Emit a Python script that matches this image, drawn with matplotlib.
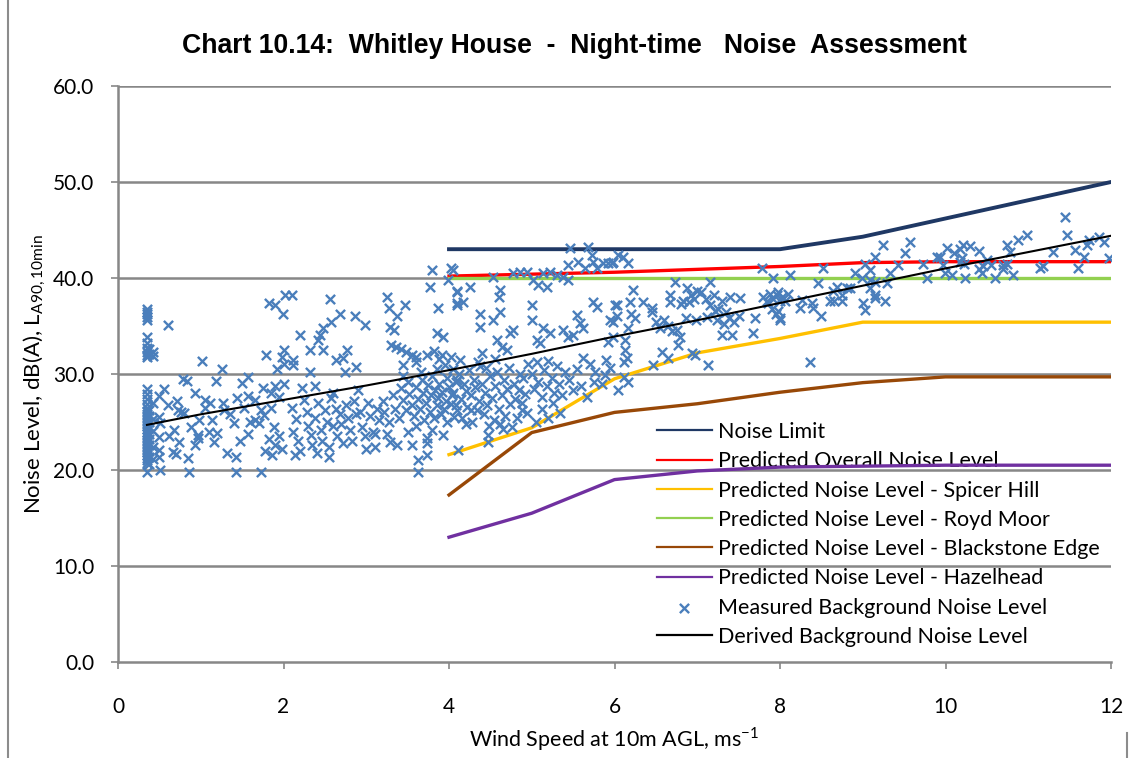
import matplotlib
matplotlib.use("Agg")
import matplotlib.pyplot as plt
from matplotlib.lines import Line2D
import numpy as np

# ---------------- data ----------------
wind_speeds = [4, 5, 6, 7, 8, 9, 10, 11, 12]
noise_limit = [43.0, 43.0, 43.0, 43.0, 43.0, 44.3, 46.2, 48.1, 50.0]
overall = [40.2, 40.4, 40.6, 40.9, 41.2, 41.6, 41.7, 41.7, 41.7]
spicer_hill = [21.6, 24.4, 29.5, 32.2, 33.7, 35.4, 35.4, 35.4, 35.4]
royd_moor = [40.0, 40.0, 40.0, 40.0, 40.0, 40.0, 40.0, 40.0, 40.0]
blackstone_edge = [17.4, 23.9, 26.0, 26.9, 28.1, 29.1, 29.7, 29.7, 29.7]
hazelhead = [13.0, 15.5, 19.0, 19.9, 20.3, 20.4, 20.5, 20.5, 20.5]

derived_x = [0.35, 1, 2, 3, 4, 5, 6, 7, 8, 9, 10, 11, 12]
derived_y = [24.7, 25.8, 27.3, 28.8, 30.4, 32.1, 33.9, 35.6, 37.4, 39.2, 41.0, 42.7, 44.4]

col_035 = [36.8, 36.5, 36.2, 35.9, 35.6, 33.9, 33.2, 32.7, 32.3, 32.0, 31.8, 28.4, 27.9, 27.4,
           26.9, 26.5, 26.1, 25.8, 25.5, 25.2, 24.9, 24.6, 24.3, 24.0, 23.7, 23.4, 23.1, 22.8,
           22.5, 22.2, 21.9, 21.6, 21.3, 21.0, 20.7, 19.8]
col_038 = [32.6, 32.1, 26.2, 25.6, 25.0, 24.4, 23.8, 23.2, 22.6, 22.0, 21.4, 20.6]
col_042 = [32.3, 31.9, 27.0, 25.3, 24.1, 22.4, 21.1]

measured_pts = [
    # 0.5 - 2.0
    (0.61, 35.1), (1.02, 31.4), (1.26, 30.5), (0.78, 29.5), (0.83, 29.3), (1.19, 29.3), (0.56, 28.4),
    (0.49, 27.7), (0.71, 27.2), (0.93, 28.0), (1.05, 27.3), (1.11, 27.0), (1.27, 27.0), (1.44, 27.5),
    (1.50, 29.1), (1.57, 29.7), (1.57, 27.7), (1.66, 27.3), (0.73, 26.2), (0.80, 25.9), (0.76, 26.0),
    (0.49, 25.5), (0.51, 24.9), (0.68, 24.2), (0.49, 23.4), (0.49, 22.1), (0.74, 22.9), (0.66, 21.9),
    (0.70, 21.7), (0.50, 21.4), (0.97, 23.6), (0.97, 23.3), (0.93, 22.6), (0.98, 25.2), (1.14, 25.2),
    (1.16, 22.9), (1.40, 24.9), (1.32, 21.8), (1.42, 21.4), (0.51, 20.0), (0.86, 19.8), (1.43, 19.8),
    (1.73, 19.8), (1.57, 23.8), (1.60, 25.0), (1.65, 25.2), (1.70, 24.9), (1.73, 26.2), (1.77, 25.7),
    (1.79, 32.0), (1.82, 37.4), (1.90, 37.2), (1.99, 36.3), (2.02, 38.2), (1.85, 28.0), (1.90, 28.8),
    (1.95, 27.6), (2.00, 29.0), (1.78, 22.0), (1.82, 23.2), (1.86, 21.6), (1.90, 22.6), (1.95, 23.5),
    (1.98, 22.2), (1.88, 24.5), (1.92, 30.5), (2.00, 31.0), (2.00, 32.5), (1.98, 31.8), (1.20, 23.9),
    (1.28, 26.2), (1.35, 25.8), (1.05, 26.5), (0.88, 24.5), (0.60, 26.8), (0.62, 23.5), (0.85, 21.2),
    (1.10, 24.0), (1.48, 23.0), (1.52, 26.5), (1.85, 26.5), (1.75, 28.5),
    # 2.0 - 4.1 upper
    (2.10, 38.2), (2.56, 37.8), (2.68, 36.3), (2.86, 36.0), (2.98, 35.1), (2.57, 35.4), (2.48, 34.8),
    (2.44, 34.1), (2.42, 33.5), (2.20, 34.1), (2.32, 32.5), (2.48, 32.5), (2.77, 32.5), (2.64, 31.5),
    (2.72, 31.7), (2.74, 30.2), (2.88, 30.7), (2.32, 30.2), (2.12, 31.5), (2.12, 30.9), (3.25, 38.0),
    (3.27, 36.9), (3.37, 36.0), (3.47, 37.2), (3.29, 34.9), (3.33, 34.6), (3.30, 33.0), (3.36, 32.8),
    (3.42, 32.6), (3.48, 32.3), (3.55, 32.0), (3.60, 31.8), (3.45, 30.9), (3.60, 31.3), (3.73, 32.0),
    (3.80, 40.8), (3.77, 39.1), (3.87, 36.9), (4.03, 41.0), (3.99, 39.8), (4.10, 38.5), (4.10, 37.4),
    (3.85, 34.3), (3.93, 33.9), (3.82, 32.4), (3.88, 31.6), (3.95, 30.9), (4.02, 31.8), (4.05, 30.5),
    (3.92, 32.0),
    # 2.1 - 2.9 lower
    (2.10, 26.5), (2.15, 25.3), (2.12, 24.0), (2.18, 23.0), (2.20, 22.0), (2.14, 21.6), (2.25, 27.3),
    (2.28, 26.0), (2.30, 24.6), (2.33, 23.6), (2.35, 22.6), (2.38, 25.4), (2.42, 27.0), (2.45, 24.2),
    (2.47, 23.0), (2.50, 26.2), (2.52, 25.0), (2.55, 22.4), (2.58, 27.5), (2.60, 24.6), (2.63, 26.4),
    (2.65, 23.5), (2.68, 25.8), (2.70, 24.8), (2.72, 22.8), (2.75, 26.8), (2.78, 25.4), (2.80, 24.2),
    (2.83, 23.0), (2.85, 27.2), (2.88, 25.8), (2.40, 21.8), (2.55, 21.4), (2.22, 28.5), (2.60, 28.0),
    (2.38, 28.8), (2.90, 28.3),
    # 2.9 - 3.4
    (2.92, 26.0), (2.95, 24.5), (2.98, 23.5), (3.02, 27.0), (3.05, 25.6), (3.08, 24.0), (3.10, 23.8),
    (3.10, 22.4), (3.13, 26.4), (3.16, 25.2), (3.20, 27.2), (3.22, 26.0), (3.25, 23.8), (3.28, 25.0),
    (3.29, 22.9), (3.32, 27.8), (3.35, 26.4), (3.37, 22.6), (3.40, 25.4), (3.00, 22.2),
    # 3.4 - 4.1 dense
    (3.42, 28.5), (3.45, 27.3), (3.48, 26.2), (3.50, 29.2), (3.52, 27.9), (3.55, 26.8), (3.55, 22.6),
    (3.58, 25.6), (3.60, 28.6), (3.62, 27.4), (3.63, 21.0), (3.63, 19.8), (3.65, 26.4), (3.67, 29.4),
    (3.68, 28.0), (3.70, 25.2), (3.72, 27.0), (3.73, 23.3), (3.73, 22.8), (3.73, 21.6), (3.75, 28.9),
    (3.77, 26.0), (3.78, 27.8), (3.80, 29.8), (3.82, 25.4), (3.83, 28.3), (3.85, 26.8), (3.87, 27.5),
    (3.88, 29.0), (3.90, 25.8), (3.92, 28.1), (3.93, 23.6), (3.94, 26.4), (3.96, 27.2), (3.97, 29.6),
    (3.98, 25.0), (4.00, 28.6), (4.02, 26.9), (4.04, 27.8), (4.06, 25.5), (4.08, 29.2), (4.10, 26.2),
    (3.60, 24.6), (3.80, 24.2), (3.50, 24.0), (3.66, 30.2), (3.85, 30.5), (3.45, 29.8),
    # 4 - 6
    (4.05, 40.8), (4.10, 38.6), (4.17, 37.5), (4.25, 39.1), (4.10, 37.2), (4.53, 40.1), (4.62, 38.7),
    (4.60, 38.0), (4.37, 36.3), (4.37, 34.9), (4.53, 35.6), (4.62, 36.5), (4.77, 40.5), (4.86, 40.6),
    (4.94, 40.6), (5.02, 39.8), (5.08, 39.3), (5.18, 39.1), (5.14, 40.5), (5.22, 40.6), (5.30, 40.3),
    (5.38, 40.1), (5.44, 39.8), (5.46, 43.1), (5.44, 41.4), (5.56, 41.7), (5.68, 43.2), (5.73, 42.4),
    (5.74, 41.7), (5.64, 41.0), (5.79, 41.0), (5.86, 41.6), (5.92, 41.6), (5.98, 41.7), (6.04, 42.4),
    (5.00, 37.2), (5.00, 35.6), (5.14, 34.8), (5.22, 34.3), (5.06, 33.5), (5.10, 33.2), (4.77, 34.6),
    (4.74, 34.3), (4.58, 33.5), (4.64, 32.8), (4.70, 32.5), (4.40, 32.2), (4.13, 31.5), (5.38, 34.6),
    (5.44, 33.9), (5.50, 34.1), (5.55, 36.1), (5.58, 35.3), (5.62, 34.8), (5.74, 37.5), (5.79, 37.0),
    (5.95, 35.6), (6.00, 37.2), (5.92, 33.3), (5.62, 31.7), (5.26, 27.0), (5.34, 25.9), (5.50, 28.3),
    (5.67, 27.6), (5.77, 30.2), (5.88, 29.9), (5.85, 29.0), (4.47, 23.6), (4.47, 22.9), (4.11, 22.1),
    (4.27, 26.3), (4.88, 27.0), (4.94, 25.9),
    # 4.0 - 4.95 dense
    (4.05, 28.0), (4.08, 26.8), (4.12, 30.0), (4.14, 27.4), (4.16, 25.4), (4.18, 29.0), (4.20, 28.2),
    (4.22, 26.6), (4.24, 30.4), (4.26, 27.8), (4.28, 25.0), (4.30, 29.4), (4.32, 28.6), (4.34, 26.2),
    (4.36, 27.2), (4.38, 30.8), (4.40, 29.0), (4.42, 25.8), (4.44, 28.0), (4.46, 26.8), (4.48, 24.6),
    (4.50, 29.8), (4.52, 27.5), (4.54, 25.2), (4.56, 28.8), (4.58, 30.2), (4.60, 26.4), (4.62, 24.8),
    (4.64, 27.8), (4.66, 29.4), (4.68, 25.6), (4.70, 28.4), (4.72, 30.6), (4.74, 26.9), (4.76, 24.5),
    (4.78, 29.0), (4.80, 27.4), (4.82, 25.4), (4.84, 28.3), (4.86, 30.0), (4.88, 26.2), (4.90, 29.6),
    (4.92, 27.9), (4.95, 31.0), (4.35, 31.2), (4.55, 31.6), (4.20, 24.8), (4.65, 24.3), (4.45, 30.6),
    (4.10, 29.4),
    # 5.0 - 6.0
    (5.00, 30.0), (5.03, 28.4), (5.06, 31.2), (5.08, 29.2), (5.12, 27.6), (5.15, 30.4), (5.18, 28.8),
    (5.20, 31.4), (5.24, 29.6), (5.27, 28.0), (5.30, 30.8), (5.33, 29.0), (5.36, 27.8), (5.40, 30.2),
    (5.12, 26.4), (5.20, 25.4), (5.05, 25.0), (5.45, 29.4), (5.55, 30.5), (5.60, 28.8), (5.70, 31.0),
    (5.75, 29.2), (5.90, 31.5), (5.95, 30.6),
    # 6 - 8
    (5.97, 41.6), (6.10, 42.2), (6.16, 41.6), (7.78, 41.0), (7.92, 40.0), (6.73, 39.6), (7.15, 39.6),
    (6.22, 38.7), (6.88, 39.0), (6.92, 38.2), (6.96, 37.8), (7.00, 38.6), (6.90, 37.5), (6.67, 38.2),
    (6.67, 37.5), (7.05, 38.5), (7.10, 37.8), (7.15, 37.2), (7.20, 38.2), (7.25, 36.8), (7.30, 37.6),
    (7.35, 36.5), (7.22, 36.6), (7.40, 38.0), (7.52, 37.9), (6.35, 37.5), (6.19, 37.5), (6.03, 37.2),
    (6.03, 36.0), (6.20, 36.3), (6.25, 35.8), (6.45, 36.9), (6.45, 36.5), (6.50, 35.4), (6.55, 34.8),
    (6.60, 35.6), (6.65, 35.0), (6.70, 34.5), (6.80, 37.3), (6.83, 37.6), (6.75, 34.6), (6.79, 33.9),
    (6.77, 33.0), (6.86, 35.8), (6.98, 35.6), (7.12, 35.9), (7.24, 35.6), (7.30, 34.1), (7.42, 34.1),
    (7.32, 35.2), (7.38, 35.8), (7.45, 35.4), (7.50, 36.0), (7.67, 34.3), (7.70, 35.8), (7.80, 38.0),
    (7.84, 37.6), (7.88, 38.3), (7.92, 37.8), (7.96, 38.2), (8.00, 37.6), (7.86, 37.4), (7.90, 36.8),
    (7.95, 36.2), (8.00, 35.6), (6.16, 34.8), (5.98, 35.4), (5.98, 33.9), (6.13, 33.5), (6.15, 31.7),
    (6.13, 32.5), (6.12, 31.2), (6.57, 32.3), (6.65, 31.7), (6.47, 30.9), (6.94, 32.2), (6.97, 32.0),
    (7.13, 30.9), (6.11, 29.7), (6.16, 29.2), (6.04, 28.3),
    # 8 - 10
    (9.25, 43.4), (9.57, 43.8), (9.51, 42.6), (9.15, 42.2), (9.03, 41.5), (9.09, 40.8), (9.43, 41.4),
    (9.73, 41.5), (9.90, 42.2), (8.52, 41.0), (8.12, 40.3), (8.91, 40.5), (9.33, 40.5), (8.46, 39.5),
    (8.99, 40.0), (9.09, 39.8), (9.15, 39.6), (9.78, 40.0), (9.29, 39.5), (8.69, 39.1), (8.81, 39.0),
    (8.85, 39.0), (9.09, 39.0), (8.64, 38.6), (8.75, 38.2), (9.15, 38.2), (9.15, 37.9), (7.97, 38.5),
    (8.02, 38.0), (8.06, 37.6), (8.10, 38.3), (8.27, 37.7), (8.39, 37.4), (8.60, 37.6), (8.65, 37.6),
    (8.75, 37.6), (9.27, 37.6), (8.24, 36.9), (8.40, 36.9), (9.00, 37.4), (9.03, 36.7), (7.97, 36.6),
    (8.00, 35.8), (8.49, 36.0), (8.36, 31.2),
    # 10 - 12
    (11.45, 46.4), (11.47, 44.5), (10.98, 44.5), (10.88, 44.0), (10.74, 43.4), (10.02, 43.1),
    (10.21, 43.4), (10.10, 42.6), (10.18, 43.0), (10.30, 43.3), (10.40, 42.8), (10.78, 42.7),
    (11.30, 42.7), (11.57, 42.9), (11.73, 44.0), (11.85, 44.3), (11.91, 43.8), (11.71, 43.4),
    (11.67, 42.2), (11.97, 42.1), (9.93, 42.2), (10.20, 42.1), (10.50, 41.9), (9.97, 41.4),
    (10.18, 41.7), (10.22, 41.5), (10.40, 40.9), (10.45, 41.2), (10.55, 41.4), (10.69, 41.4),
    (10.74, 41.5), (11.14, 41.0), (11.18, 41.2), (11.60, 41.0), (9.99, 40.5), (10.08, 40.3),
    (10.44, 40.5), (10.69, 40.9), (10.82, 40.3), (10.24, 40.0), (10.60, 40.0),
]

measured_x = ([0.35] * len(col_035) + [0.38] * len(col_038) + [0.42] * len(col_042)
              + [p[0] for p in measured_pts])
measured_y = col_035 + col_038 + col_042 + [p[1] for p in measured_pts]

x_ticks = [0, 2, 4, 6, 8, 10, 12]
y_ticks = [0, 10, 20, 30, 40, 50, 60]

# ---------------- figure ----------------
W, H = 1133, 758
fig = plt.figure(figsize=(W / 100, H / 100), dpi=100)
ax = fig.add_axes([118 / W, 1 - 662 / H, (1111 - 118) / W, (662 - 86) / H])

grid_c = "#878787"
for yv in y_ticks[1:]:
    ax.axhline(yv, color=grid_c, lw=1.8, zorder=1)

lw = 2.4
ax.plot(wind_speeds, noise_limit, color="#1F3864", lw=2.8, label="Noise Limit", zorder=3)
ax.plot(wind_speeds, overall, color="#FF0000", lw=lw, label="Predicted Overall Noise Level", zorder=3)
ax.plot(wind_speeds, spicer_hill, color="#FFC000", lw=lw, label="Predicted Noise Level - Spicer Hill", zorder=3)
ax.plot(wind_speeds, royd_moor, color="#92D050", lw=lw, label="Predicted Noise Level - Royd Moor", zorder=3)
ax.plot(wind_speeds, blackstone_edge, color="#984807", lw=lw, label="Predicted Noise Level - Blackstone Edge", zorder=3)
ax.plot(wind_speeds, hazelhead, color="#7030A0", lw=lw, label="Predicted Noise Level - Hazelhead", zorder=3)
ax.scatter(measured_x, measured_y, marker="x", s=44, linewidths=1.7, color="#4A7EBB",
           label="Measured Background Noise Level", zorder=4)
ax.plot(derived_x, derived_y, color="black", lw=1.5, label="Derived Background Noise Level", zorder=5)

ax.set_xlim(0, 12)
ax.set_ylim(0, 60)
ax.set_xticks(x_ticks)
ax.set_xticklabels([str(v) for v in x_ticks])
ax.set_yticks(y_ticks)
ax.set_yticklabels([f"{v:.1f}" for v in y_ticks])

for s in ["top", "right"]:
    ax.spines[s].set_visible(False)
for s in ["left", "bottom"]:
    ax.spines[s].set_color(grid_c)
    ax.spines[s].set_linewidth(1.8)
ax.tick_params(axis="both", colors=grid_c, length=5, width=1.2, labelcolor="black", labelsize=15)
ax.tick_params(axis="x", pad=20)
ax.tick_params(axis="y", pad=12)
for t in ax.get_xticklabels() + ax.get_yticklabels():
    t.set_family("Lato")

ax.set_xlabel("Wind Speed at 10m AGL, ms$^{\\mathregular{-1}}$", fontsize=15.5, family="Lato", labelpad=6)
ax.set_ylabel("Noise Level, dB(A), L$_{\\mathregular{A90,10min}}$", fontsize=16, family="Lato", labelpad=4)

fig.text(574 / W, 1 - 46 / H, "Chart 10.14:  Whitley House  -  Night-time   Noise  Assessment",
         ha="center", va="center", fontsize=19.2, fontweight="bold", family="Liberation Sans")

leg = ax.legend(loc="upper left", bbox_to_anchor=(657 / W, 1 - 422 / H), bbox_transform=fig.transFigure,
                frameon=False, prop={"family": "Lato", "size": 15.5}, handlelength=2.55, handletextpad=0.3,
                labelspacing=0.43, borderpad=0, borderaxespad=0, scatterpoints=1)
leg.set_zorder(2)
for ln in leg.get_lines():
    ln.set_linewidth(1.6)

# chart-area border fragments
fig.add_artist(Line2D([8 / W, 8 / W], [0, 1], color="#8c8c8c", lw=1.5))
fig.add_artist(Line2D([1127 / W, 1127 / W], [0, 1 - 733 / H], color="#8c8c8c", lw=1.5))

fig.savefig("out.png", dpi=100)
